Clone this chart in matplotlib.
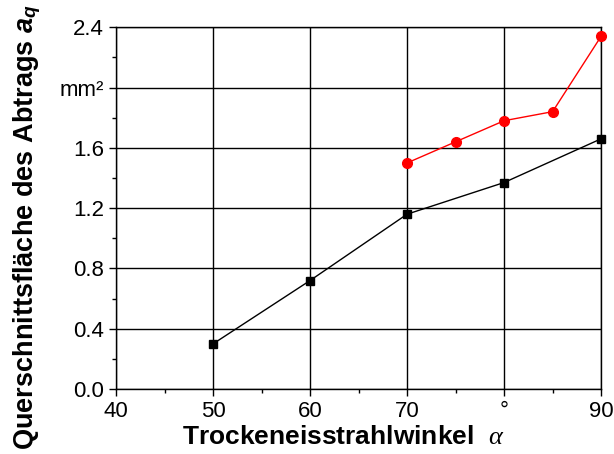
import matplotlib.pyplot as plt
from matplotlib.ticker import MultipleLocator

plt.rcParams['font.family'] = ['Liberation Sans', 'DejaVu Sans']
plt.rcParams['mathtext.fontset'] = 'custom'
plt.rcParams['mathtext.it'] = 'Liberation Serif:italic'
plt.rcParams['mathtext.bfit'] = 'Liberation Sans:bold:italic'

# black series (squares)
winkel_schwarz = [50, 60, 70, 80, 90]
abtrag_schwarz = [0.30, 0.72, 1.16, 1.37, 1.66]

# red series (circles)
winkel_rot = [70, 75, 80, 85, 90]
abtrag_rot = [1.50, 1.64, 1.78, 1.84, 2.34]

x_ticks = [40, 50, 60, 70, 80, 90]
x_labels = ['40', '50', '60', '70', '°', '90']
y_ticks = [0.0, 0.4, 0.8, 1.2, 1.6, 2.0, 2.4]
y_labels = ['0.0', '0.4', '0.8', '1.2', '1.6', 'mm²', '2.4']

fig = plt.figure(figsize=(6.14, 4.54), dpi=100)
ax = fig.add_axes([0.189, 0.143, 0.790, 0.797])

ax.plot(winkel_schwarz, abtrag_schwarz, color='black', lw=1, marker='s',
        markersize=6, clip_on=False, zorder=3)
ax.plot(winkel_rot, abtrag_rot, color='red', lw=1, marker='o',
        markersize=7, clip_on=False, zorder=3)

ax.set_xlim(40, 90)
ax.set_ylim(0, 2.4)
ax.set_xticks(x_ticks)
ax.set_xticklabels(x_labels)
ax.set_yticks(y_ticks)
ax.set_yticklabels(y_labels)
ax.xaxis.set_minor_locator(MultipleLocator(5))
ax.yaxis.set_minor_locator(MultipleLocator(0.2))
ax.tick_params(which='major', direction='out', length=5, width=1, labelsize=16)
ax.tick_params(which='minor', direction='out', length=3, width=1)
ax.grid(True, which='major', color='black', lw=1)
for s in ax.spines.values():
    s.set_linewidth(1)

ax.set_xlabel(r'Trockeneisstrahlwinkel  $\mathit{\alpha}$', fontsize=19,
              fontweight='bold')
ax.set_ylabel(r'Querschnittsfläche des Abtrags $\mathbfit{a}_\mathbfit{q}$',
              fontsize=19.5, fontweight='bold')
ax.xaxis.set_label_coords(0.469, -0.098)
ax.yaxis.set_label_coords(-0.150, 0.4475)

fig.savefig('out.png', dpi=100)
